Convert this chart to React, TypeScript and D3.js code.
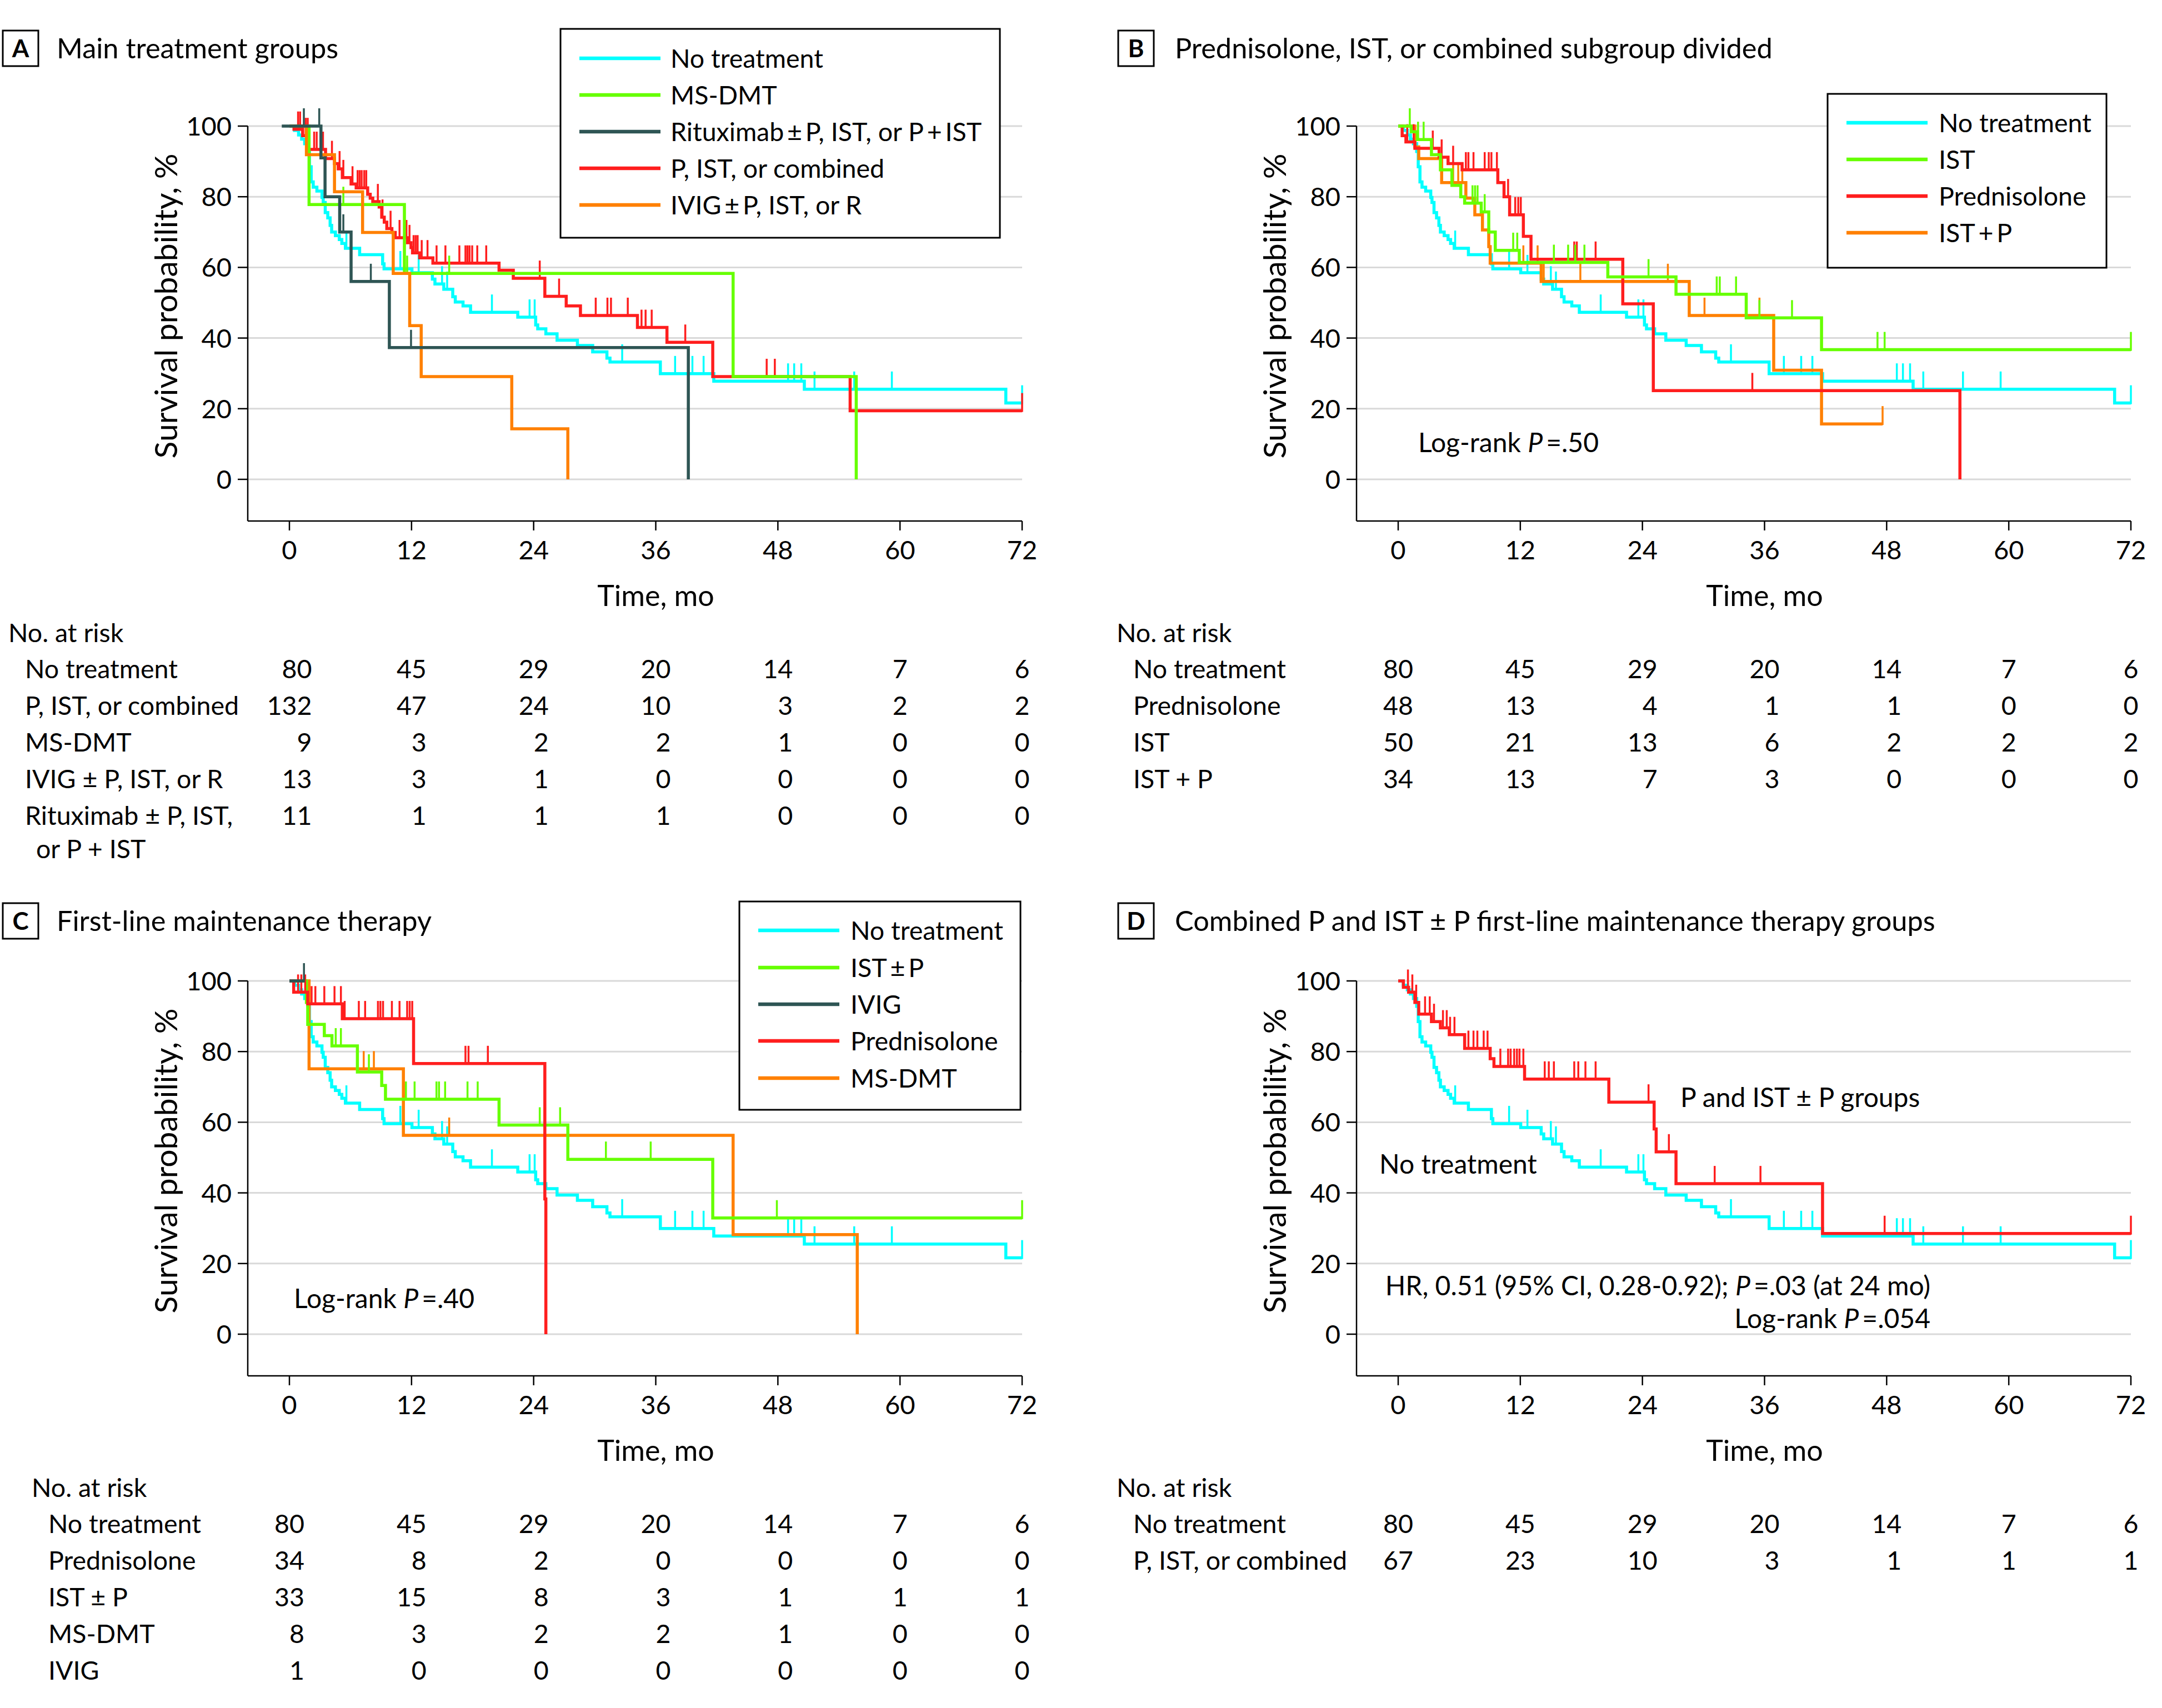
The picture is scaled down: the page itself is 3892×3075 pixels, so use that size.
import React from 'react';
import * as d3 from 'd3';

const W = 3892;
const H = 3075;
const FONT = "Lato, 'Noto Sans', 'DejaVu Sans', sans-serif";
const FS_TICK = 47;
const FS_TABLE = 46.5;
const FS_LEGEND = 46.5;
const FS_NOTE = 48;
const FS_TITLE = 50.5;
const FS_XLABEL = 52;
const FS_YLABEL = 57;
const DW = 27; // approx digit advance

const CYAN = '#00ffff';
const GREEN = '#66ff00';
const DARK = '#2e5554';
const RED = '#ff1e1e';
const ORANGE = '#ff8000';

const monthTicks = [0, 12, 24, 36, 48, 60, 72];
const survTicks = [0, 20, 40, 60, 80, 100];

type Ev = [number, number];

// ---------- No treatment (same cohort in all panels) ----------
const noTreatmentEvents: Ev[] = [
  [0.5, 98.8], [0.9, 97.5], [1.2, 96.3], [1.5, 95.0], [1.82, 92.8], [1.97, 88.5], [2.14, 84.2],
  [2.34, 82.7], [2.7, 81.6], [3.2, 79.8], [3.32, 78.4], [3.52, 75.5], [3.77, 74.0], [4.0, 71.9],
  [4.15, 70.0], [4.52, 69.0], [4.9, 67.9], [5.15, 66.8], [5.5, 65.4], [6.9, 63.6], [9.16, 61.0],
  [9.3, 59.6], [12.04, 58.5], [14.05, 56.7], [14.3, 55.3], [15.17, 53.8], [16.05, 51.7],
  [16.3, 50.2], [17.06, 49.1], [17.8, 47.3], [22.44, 45.9], [24.2, 43.7], [24.4, 42.6],
  [25.2, 41.2], [26.3, 39.4], [28.3, 37.9], [29.8, 36.1], [31.2, 34.3], [31.5, 33.2],
  [36.45, 29.9], [41.7, 27.8], [50.6, 25.5], [70.4, 21.6],
];
const noTreatmentCensor = [5.6, 10.9, 12.7, 15.0, 15.5, 19.9, 23.6, 24.1, 32.7, 37.9, 39.6, 40.7, 49.0, 49.6, 50.3, 51.6, 55.5, 59.2, 72];
const noTreatmentEnd = 72;

// ---------- Panel A ----------
const aRedEvents: Ev[] = [
  [0.45, 99.1], [1.3, 97.3], [1.92, 93.4], [3.55, 90.8], [4.43, 89.4], [4.8, 87.9], [5.2, 85.4],
  [6.06, 83.6], [6.56, 82.5], [7.69, 80.7], [7.94, 79.6], [8.19, 78.6], [8.82, 77.1], [9.07, 74.2],
  [9.32, 72.8], [9.57, 71.0], [10.07, 69.9], [10.4, 68.4], [11.6, 67.0], [11.95, 65.6], [12.1, 64.1],
  [12.8, 62.7], [14.1, 61.2], [20.6, 59.2], [22.0, 56.9], [25.1, 51.8], [27.2, 49.1], [28.6, 46.4],
  [34.2, 43.0], [37.1, 38.8], [41.6, 29.1], [55.1, 19.4],
];
const aRedCensor = [
  0.85, 1.05, 1.6, 1.8, 2.43, 2.68, 3.3, 4.18, 4.93, 5.3, 6.2, 6.7, 6.9, 7.1, 7.35, 7.55, 8.69, 9.15,
  9.94, 10.82, 11.3, 11.5, 11.8, 12.2, 12.4, 12.6, 13.0, 13.57, 14.46, 15.33, 16.7, 17.3, 17.5, 17.7,
  17.96, 18.46, 19.34, 24.6, 26.5, 30.1, 31.25, 31.6, 33.25, 34.6, 35.0, 35.6, 38.9, 46.9, 47.7, 72,
];
const aRedEnd = 72;

const aGreenEvents: Ev[] = [[1.93, 77.8], [11.3, 58.3], [43.6, 29.1], [55.7, 0]];
const aGreenCensor = [5.3, 11.57, 15.7];

const aOrangeEvents: Ev[] = [[1.67, 91.9], [4.43, 81.4], [7.19, 69.9], [10.2, 58.3], [11.82, 43.5], [12.95, 29.1], [21.85, 14.3], [27.36, 0]];
const aOrangeCensor: number[] = [];

const aDarkStart = -0.75;
const aDarkEvents: Ev[] = [[3.1, 91.0], [3.5, 80.0], [4.94, 70.0], [6.06, 56.0], [9.82, 37.3], [39.2, 0]];
const aDarkCensor = [1.42, 2.93, 5.3, 8.0, 11.95];

// ---------- Panel B ----------
const bRedEvents: Ev[] = [
  [0.39, 97.3], [0.76, 95.5], [1.64, 93.7], [4.02, 91.2], [4.9, 89.4], [6.28, 87.6], [9.79, 84.0],
  [10.4, 80.0], [10.95, 74.9], [12.3, 68.8], [13.05, 62.3], [22.07, 49.7], [25.07, 25.1], [55.2, 0],
];
const bRedCensor = [0.89, 1.52, 3.4, 4.27, 5.4, 6.65, 6.9, 7.4, 8.5, 8.9, 9.16, 9.7, 10.8, 11.5, 11.8, 12.05, 17.3, 17.55, 19.4, 34.8];

const bGreenEvents: Ev[] = [
  [1.27, 98.4], [1.89, 96.2], [3.27, 91.9], [4.15, 87.6], [5.28, 83.2], [6.15, 80.0], [6.53, 78.2],
  [8.16, 75.7], [8.9, 70.0], [9.54, 64.8], [11.9, 61.4], [20.6, 57.3], [27.3, 52.4], [34.2, 45.7], [41.6, 36.7],
];
const bGreenCensor = [1.14, 1.95, 2.5, 7.3, 7.55, 7.8, 8.5, 11.3, 11.7, 15.3, 16.7, 17.4, 18.3, 24.6, 31.3, 31.6, 33.2, 35.5, 38.7, 47.1, 47.8, 72];
const bGreenEnd = 72;

const bOrangeEvents: Ev[] = [
  [1.64, 94.1], [2.02, 90.8], [4.27, 84.0], [6.65, 79.6], [7.53, 74.9], [8.28, 70.6], [8.9, 65.9],
  [9.04, 61.2], [14.05, 56.0], [28.6, 46.4], [36.9, 30.9], [41.6, 15.7],
];
const bOrangeCensor = [5.4, 5.9, 6.3, 12.3, 13.7, 14.3, 17.9, 26.5, 30.1, 35.5, 47.6];
const bOrangeEnd = 47.6;

// ---------- Panel C ----------
const cRedEvents: Ev[] = [[0.42, 96.8], [1.8, 93.5], [5.2, 89.3], [12.2, 76.6], [25.1, 38.3], [25.2, 0]];
const cRedCensor = [0.85, 1.17, 1.55, 2.18, 2.55, 3.43, 4.43, 5.06, 5.43, 6.82, 7.44, 8.7, 8.94, 9.2, 10.07, 10.82, 11.57, 11.82, 12.07, 17.3, 17.6, 19.5];

const cGreenEvents: Ev[] = [
  [1.67, 93.9], [1.8, 87.7], [3.43, 84.5], [4.18, 81.6], [6.68, 74.2], [9.07, 70.4], [9.44, 66.5],
  [20.6, 59.2], [27.36, 49.5], [41.6, 32.9],
];
const cGreenCensor = [4.55, 5.06, 7.81, 11.45, 12.3, 14.45, 14.7, 15.3, 17.5, 18.5, 24.6, 26.6, 31.1, 35.5, 47.9, 72];
const cGreenEnd = 72;

const cOrangeEvents: Ev[] = [[1.93, 75.1], [11.2, 56.3], [43.6, 28.2], [55.8, 0]];
const cOrangeCensor = [7.3, 8.3, 15.7];

const cDarkEvents: Ev[] = [];
const cDarkCensor = [1.43];
const cDarkEnd = 1.5;

// ---------- Panel D ----------
const dRedEvents: Ev[] = [
  [0.51, 98.2], [1.02, 96.8], [1.64, 93.9], [2.02, 90.6], [3.27, 88.5], [4.15, 86.7], [5.02, 84.8],
  [6.53, 80.9], [9.04, 78.0], [9.41, 75.8], [12.42, 72.2], [20.7, 65.7], [25.15, 58.1], [25.35, 51.6],
  [27.3, 42.6], [41.7, 28.5],
];
const dRedCensor = [
  0.96, 1.39, 1.77, 2.64, 3.1, 3.52, 4.4, 4.77, 5.1, 5.53, 6.9, 7.4, 7.78, 8.4, 8.78, 10.04, 10.8, 11.05,
  11.4, 11.67, 11.92, 12.3, 14.4, 14.8, 15.3, 17.3, 17.7, 18.4, 19.4, 24.6, 26.6, 31.1, 35.6, 47.8, 72,
];
const dRedEnd = 72;

// ---------- Numbers at risk ----------
const riskA_noTreatment = [80, 45, 29, 20, 14, 7, 6];
const riskA_pIst = [132, 47, 24, 10, 3, 2, 2];
const riskA_msdmt = [9, 3, 2, 2, 1, 0, 0];
const riskA_ivig = [13, 3, 1, 0, 0, 0, 0];
const riskA_ritux = [11, 1, 1, 1, 0, 0, 0];

const riskB_noTreatment = [80, 45, 29, 20, 14, 7, 6];
const riskB_pred = [48, 13, 4, 1, 1, 0, 0];
const riskB_ist = [50, 21, 13, 6, 2, 2, 2];
const riskB_istP = [34, 13, 7, 3, 0, 0, 0];

const riskC_noTreatment = [80, 45, 29, 20, 14, 7, 6];
const riskC_pred = [34, 8, 2, 0, 0, 0, 0];
const riskC_istP = [33, 15, 8, 3, 1, 1, 1];
const riskC_msdmt = [8, 3, 2, 2, 1, 0, 0];
const riskC_ivig = [1, 0, 0, 0, 0, 0, 0];

const riskD_noTreatment = [80, 45, 29, 20, 14, 7, 6];
const riskD_pIst = [67, 23, 10, 3, 1, 1, 1];

interface Series {
  color: string;
  events: Ev[];
  censor: number[];
  start?: number;
  end?: number;
}

interface RiskRow { label: string; values: number[]; extra?: string }

interface PanelProps {
  ox: number;
  oy: number;
  letter: string;
  title: string;
  boxX: number;
  boxY: number;
  titleX: number;
  series: Series[];
  legend?: { box: [number, number, number, number]; rows: number[]; lx1: number; lx2: number; tx: number; items: { label: string; color: string }[] };
  tableX: number; // relative to panel offset
  risk: RiskRow[];
}

function survAt(events: Ev[], t: number) {
  let s = 100;
  for (const [et, es] of events) if (et <= t) s = es;
  return s;
}

function Panel(p: PanelProps) {
  const { ox, oy } = p;
  const xs = d3.scaleLinear().domain([0, 72]).range([521 + ox, 1840 + ox]);
  const ys = d3.scaleLinear().domain([0, 100]).range([863 + oy, 227 + oy]);
  const axisLeft = 446 + ox;
  const axisBottom = 938 + oy;
  const line = d3.line<Ev>().x((d) => xs(d[0])).y((d) => ys(d[1])).curve(d3.curveStepAfter);
  const tx = p.tableX + ox;

  const colMax = monthTicks.map((_, j) => d3.max(p.risk, (r) => String(r.values[j]).length) || 1);

  return (
    <g>
      {/* panel letter and title */}
      <rect x={p.boxX} y={p.boxY} width={64} height={64} fill="none" stroke="#000" strokeWidth={3} />
      <text x={p.boxX + 32} y={p.boxY + 32} dy="0.36em" textAnchor="middle" fontSize={44} fontWeight={700}>{p.letter}</text>
      <text x={p.titleX} y={p.boxY + 32} dy="0.36em" fontSize={FS_TITLE}>{p.title}</text>

      {/* gridlines */}
      {survTicks.map((v) => (
        <line key={'g' + v} x1={axisLeft} x2={xs(72)} y1={ys(v)} y2={ys(v)} stroke="#d9d9d9" strokeWidth={3} />
      ))}
      {/* axes */}
      <line x1={axisLeft} x2={axisLeft} y1={ys(100)} y2={axisBottom} stroke="#000" strokeWidth={2.5} />
      <line x1={axisLeft} x2={xs(72)} y1={axisBottom} y2={axisBottom} stroke="#000" strokeWidth={2.5} />
      {survTicks.map((v) => (
        <g key={'yt' + v}>
          <line x1={axisLeft - 18} x2={axisLeft} y1={ys(v)} y2={ys(v)} stroke="#000" strokeWidth={2.5} />
          <text x={axisLeft - 29} y={ys(v)} dy="0.36em" textAnchor="end" fontSize={FS_TICK}>{v}</text>
        </g>
      ))}
      {monthTicks.map((v) => (
        <g key={'xt' + v}>
          <line x1={xs(v)} x2={xs(v)} y1={axisBottom} y2={axisBottom + 17} stroke="#000" strokeWidth={2.5} />
          <text x={xs(v)} y={990 + oy} dy="0.36em" textAnchor="middle" fontSize={FS_TICK}>{v}</text>
        </g>
      ))}
      <text x={xs(36)} y={1072 + oy} dy="0.36em" textAnchor="middle" fontSize={FS_XLABEL}>Time, mo</text>
      <text transform={`translate(${298 + ox},${551 + oy}) rotate(-90)`} dy="0.36em" textAnchor="middle" fontSize={FS_YLABEL}>Survival probability, %</text>

      {/* curves */}
      {p.series.map((s, i) => {
        const start = s.start ?? 0;
        const pts: Ev[] = [[start, 100], ...s.events];
        const last = s.events.length ? s.events[s.events.length - 1] : ([start, 100] as Ev);
        if (s.end !== undefined && s.end > last[0]) pts.push([s.end, last[1]]);
        return (
          <g key={'s' + i}>
            <path d={line(pts) || ''} fill="none" stroke={s.color} strokeWidth={5.5} />
            {s.censor.map((c, k) => {
              const v = survAt(s.events, c);
              return <line key={k} x1={xs(c)} x2={xs(c)} y1={ys(v) + 2} y2={ys(v) - 32} stroke={s.color} strokeWidth={3.5} />;
            })}
          </g>
        );
      })}

      {/* legend */}
      {p.legend && (
        <g>
          <rect x={p.legend.box[0]} y={p.legend.box[1]} width={p.legend.box[2] - p.legend.box[0]} height={p.legend.box[3] - p.legend.box[1]} fill="#fff" stroke="#000" strokeWidth={3} />
          {p.legend.items.map((it, i) => (
            <g key={'l' + i}>
              <line x1={p.legend!.lx1} x2={p.legend!.lx2} y1={p.legend!.rows[i]} y2={p.legend!.rows[i]} stroke={it.color} strokeWidth={6.5} />
              <text x={p.legend!.tx} y={p.legend!.rows[i]} dy="0.36em" fontSize={FS_LEGEND}>{it.label}</text>
            </g>
          ))}
        </g>
      )}

      {/* numbers at risk */}
      <text x={tx} y={1139 + oy} dy="0.36em" fontSize={FS_TABLE}>No. at risk</text>
      {p.risk.map((r, i) => {
        const yy = 1204 + oy + i * 66;
        return (
          <g key={'r' + i}>
            <text x={tx + 30} y={yy} dy="0.36em" fontSize={FS_TABLE}>{r.label}</text>
            {r.extra && <text x={tx + 50} y={yy + 60} dy="0.36em" fontSize={FS_TABLE}>{r.extra}</text>}
            {r.values.map((v, j) => (
              <text key={j} x={xs(monthTicks[j]) + (colMax[j] * DW) / 2} y={yy} dy="0.36em" textAnchor="end" fontSize={FS_TABLE}>{v}</text>
            ))}
          </g>
        );
      })}
    </g>
  );
}

function Italic({ children }: { children: React.ReactNode }) {
  return <tspan fontStyle="italic">{children}</tspan>;
}

export default function App() {
  const seriesA: Series[] = [
    { color: CYAN, events: noTreatmentEvents, censor: noTreatmentCensor, end: noTreatmentEnd },
    { color: RED, events: aRedEvents, censor: aRedCensor, end: aRedEnd },
    { color: GREEN, events: aGreenEvents, censor: aGreenCensor },
    { color: ORANGE, events: aOrangeEvents, censor: aOrangeCensor },
    { color: DARK, events: aDarkEvents, censor: aDarkCensor, start: aDarkStart },
  ];
  const seriesB: Series[] = [
    { color: CYAN, events: noTreatmentEvents, censor: noTreatmentCensor, end: noTreatmentEnd },
    { color: ORANGE, events: bOrangeEvents, censor: bOrangeCensor, end: bOrangeEnd },
    { color: RED, events: bRedEvents, censor: bRedCensor },
    { color: GREEN, events: bGreenEvents, censor: bGreenCensor, end: bGreenEnd },
  ];
  const seriesC: Series[] = [
    { color: CYAN, events: noTreatmentEvents, censor: noTreatmentCensor, end: noTreatmentEnd },
    { color: ORANGE, events: cOrangeEvents, censor: cOrangeCensor },
    { color: GREEN, events: cGreenEvents, censor: cGreenCensor, end: cGreenEnd },
    { color: RED, events: cRedEvents, censor: cRedCensor },
    { color: DARK, events: cDarkEvents, censor: cDarkCensor, end: cDarkEnd },
  ];
  const seriesD: Series[] = [
    { color: CYAN, events: noTreatmentEvents, censor: noTreatmentCensor, end: noTreatmentEnd },
    { color: RED, events: dRedEvents, censor: dRedCensor, end: dRedEnd },
  ];

  return (
    <svg width={W} height={H} viewBox={`0 0 ${W} ${H}`} style={{ position: 'absolute', left: 0, top: 0, background: '#fff' }} fontFamily={FONT} fill="#000">
      <rect x={0} y={0} width={W} height={H} fill="#fff" />
      <Panel
        ox={0} oy={0} letter="A" title="Main treatment groups" boxX={5} boxY={55} titleX={102}
        series={seriesA}
        legend={{
          box: [1009, 52, 1800, 428], rows: [105, 171, 237, 303, 369], lx1: 1043, lx2: 1189, tx: 1207,
          items: [
            { label: 'No treatment', color: CYAN },
            { label: 'MS-DMT', color: GREEN },
            { label: 'Rituximab\u2009±\u2009P, IST, or P\u2009+\u2009IST', color: DARK },
            { label: 'P, IST, or combined', color: RED },
            { label: 'IVIG\u2009±\u2009P, IST, or R', color: ORANGE },
          ],
        }}
        tableX={15}
        risk={[
          { label: 'No treatment', values: riskA_noTreatment },
          { label: 'P, IST, or combined', values: riskA_pIst },
          { label: 'MS-DMT', values: riskA_msdmt },
          { label: 'IVIG ± P, IST, or R', values: riskA_ivig },
          { label: 'Rituximab ± P, IST,', values: riskA_ritux, extra: 'or P + IST' },
        ]}
      />
      <Panel
        ox={1996} oy={0} letter="B" title="Prednisolone, IST, or combined subgroup divided" boxX={2013} boxY={55} titleX={2115}
        series={seriesB}
        legend={{
          box: [3290, 169, 3792, 482], rows: [221, 287, 353, 419], lx1: 3324, lx2: 3470, tx: 3490,
          items: [
            { label: 'No treatment', color: CYAN },
            { label: 'IST', color: GREEN },
            { label: 'Prednisolone', color: RED },
            { label: 'IST\u2009+\u2009P', color: ORANGE },
          ],
        }}
        tableX={14}
        risk={[
          { label: 'No treatment', values: riskB_noTreatment },
          { label: 'Prednisolone', values: riskB_pred },
          { label: 'IST', values: riskB_ist },
          { label: 'IST + P', values: riskB_istP },
        ]}
      />
      <Panel
        ox={0} oy={1539} letter="C" title="First-line maintenance therapy" boxX={5} boxY={1626} titleX={102}
        series={seriesC}
        legend={{
          box: [1331, 1623, 1837, 1998], rows: [1675, 1742, 1808, 1874, 1941], lx1: 1365, lx2: 1511, tx: 1531,
          items: [
            { label: 'No treatment', color: CYAN },
            { label: 'IST\u2009±\u2009P', color: GREEN },
            { label: 'IVIG', color: DARK },
            { label: 'Prednisolone', color: RED },
            { label: 'MS-DMT', color: ORANGE },
          ],
        }}
        tableX={57}
        risk={[
          { label: 'No treatment', values: riskC_noTreatment },
          { label: 'Prednisolone', values: riskC_pred },
          { label: 'IST ± P', values: riskC_istP },
          { label: 'MS-DMT', values: riskC_msdmt },
          { label: 'IVIG', values: riskC_ivig },
        ]}
      />
      <Panel
        ox={1996} oy={1539} letter="D" title="Combined P and IST ± P first-line maintenance therapy groups" boxX={2013} boxY={1626} titleX={2115}
        series={seriesD}
        tableX={14}
        risk={[
          { label: 'No treatment', values: riskD_noTreatment },
          { label: 'P, IST, or combined', values: riskD_pIst },
        ]}
      />

      {/* annotations */}
      <text x={2553} y={814} fontSize={FS_NOTE}>Log-rank <Italic>P</Italic>{'\u2009'}=.50</text>
      <text x={529} y={2355} fontSize={FS_NOTE}>Log-rank <Italic>P</Italic>{'\u2009'}=.40</text>
      <text x={2483} y={2113} fontSize={FS_NOTE}>No treatment</text>
      <text x={3025} y={1993} fontSize={FS_NOTE}>P and IST ± P groups</text>
      <text x={3475} y={2332} textAnchor="end" fontSize={FS_NOTE}>HR, 0.51 (95% CI, 0.28-0.92); <Italic>P</Italic>{'\u2009'}=.03 (at 24 mo)</text>
      <text x={3475} y={2391} textAnchor="end" fontSize={FS_NOTE}>Log-rank <Italic>P</Italic>{'\u2009'}=.054</text>
    </svg>
  );
}
